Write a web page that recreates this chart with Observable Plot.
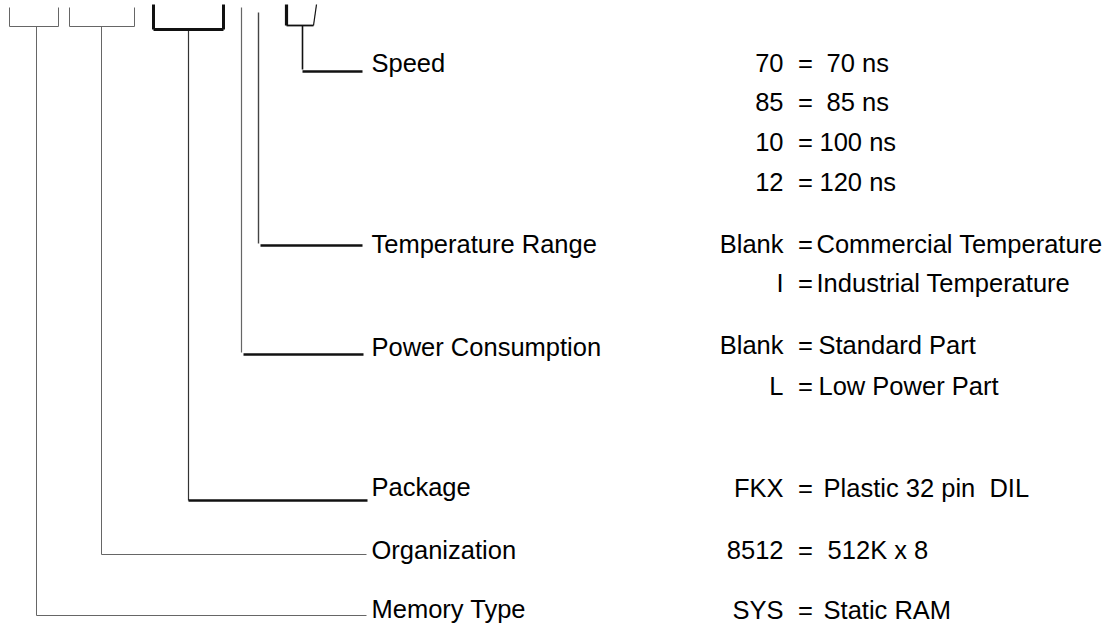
<!DOCTYPE html>
<html>
<head>
<meta charset="utf-8">
<script src="https://cdn.jsdelivr.net/npm/d3@7"></script>
<script src="https://cdn.jsdelivr.net/npm/@observablehq/plot@0.6"></script>
<style>
  html, body { margin: 0; padding: 0; background: #fff; }
  #chart svg { display: block; }
</style>
</head>
<body>
<div id="chart"></div>
<script>
// ---- Part-number fields (left side) ----
const fieldNames   = ["Memory Type", "Organization", "Package", "Power Consumption", "Temperature Range", "Speed"];
const fieldLabelY  = [609, 550, 487, 347, 244, 63];
const connectorY   = [615, 554, 500, 354, 245, 71];
const stemX        = [36, 101, 188, 241, 258, 302];
const stemTop      = [26, 26, 29, 7, 12, 25];
const connectorX0  = [36, 101, 188, 243, 260, 302];
const connectorX1  = [366, 366, 367, 363, 362, 362];
const stemWidth    = [1, 1, 1.2, 1.2, 1.4, 1.6];
const stemColor    = ["#666", "#666", "#333", "#666", "#444", "#111"];
const connWidth    = [1, 1, 2.6, 2.4, 2.4, 2.4];
const connColor    = ["#666", "#666", "#111", "#111", "#111", "#111"];

// ---- Brackets above the part number characters ----
const bracketLeft      = [9, 69, 153, 286];
const bracketRight     = [58, 134, 223, 313];
const bracketRightTop  = [58, 134, 223, 316];
const bracketTop       = [7, 7, 4, 4];
const bracketBottom    = [26, 26, 29, 25];
const bracketLeftW     = [1, 1, 3, 3.2];
const bracketRightW    = [1, 1, 3, 1.2];
const bracketBottomW   = [1, 1, 3, 1.8];
const bracketColor     = ["#666", "#666", "#111", "#111"];

// ---- Option codes (right side) ----
const codes    = ["70", "85", "10", "12", "Blank", "I", "Blank", "L", "FKX", "8512", "SYS"];
const meanings = ["\u00a070 ns", "\u00a085 ns", "100 ns", "120 ns",
                  "Commercial Temperature", "Industrial Temperature",
                  "Standard Part", "Low Power Part",
                  "\u00a0Plastic 32 pin\u00a0 DIL", "\u00a0512K x 8", "\u00a0Static RAM"];
const codeRowY = [63, 102, 142, 182, 244, 283, 345, 386, 488, 550, 610];
const meaningX = [819, 819, 819, 819, 816, 816, 818, 818, 816, 820, 816];

// ---- Build tables for the marks ----
const segs = [];
fieldNames.forEach((f, i) => {
  segs.push({x1: stemX[i], y1: stemTop[i], x2: stemX[i], y2: connectorY[i] + (i >= 3 ? -2 : 0), w: stemWidth[i], c: stemColor[i]});
  segs.push({x1: connectorX0[i], y1: connectorY[i], x2: connectorX1[i], y2: connectorY[i], w: connWidth[i], c: connColor[i]});
});
bracketLeft.forEach((l, i) => {
  segs.push({x1: l, y1: bracketTop[i], x2: l, y2: bracketBottom[i], w: bracketLeftW[i], c: bracketColor[i]});
  segs.push({x1: bracketRightTop[i], y1: bracketTop[i], x2: bracketRight[i], y2: bracketBottom[i], w: bracketRightW[i], c: bracketColor[i]});
  segs.push({x1: l, y1: bracketBottom[i], x2: bracketRight[i], y2: bracketBottom[i], w: bracketBottomW[i], c: bracketColor[i]});
});

const labels = fieldNames.map((f, i) => ({text: f, x: 371, y: fieldLabelY[i]}));
const rows = codes.map((c, i) => ({code: c, eq: "=", meaning: meanings[i], y: codeRowY[i], mx: meaningX[i]}));

const fs = 25.5;
const chart = Plot.plot({
  width: 1119,
  height: 627,
  margin: 0,
  style: {fontFamily: "'Liberation Sans', Arial, sans-serif", background: "#fff", overflow: "visible"},
  x: {type: "linear", domain: [0, 1119], range: [0, 1119], axis: null},
  y: {type: "linear", domain: [0, 627], range: [0, 627], axis: null},
  marks: [
    Plot.link(segs, {x1: "x1", y1: "y1", x2: "x2", y2: "y2", stroke: d => d.c, strokeWidth: d => d.w, strokeLinecap: "butt"}),
    Plot.text(labels, {x: "x", y: "y", text: "text", textAnchor: "start", fontSize: fs, fill: "#000"}),
    Plot.text(rows, {x: 783, y: "y", text: "code", textAnchor: "end", fontSize: fs, fill: "#000"}),
    Plot.text(rows, {x: 805, y: "y", text: "eq", textAnchor: "middle", fontSize: fs, fill: "#000"}),
    Plot.text(rows, {x: "mx", y: "y", text: "meaning", textAnchor: "start", fontSize: fs, fill: "#000"})
  ]
});
document.getElementById("chart").appendChild(chart);
</script>
</body>
</html>
